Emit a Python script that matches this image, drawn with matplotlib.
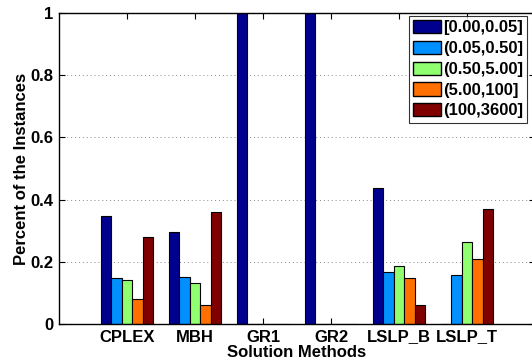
import matplotlib
matplotlib.use("Agg")
import matplotlib.pyplot as plt
import numpy as np

methods = ["CPLEX", "MBH", "GR1", "GR2", "LSLP_B", "LSLP_T"]
ranges = ["[0.00,0.05]", "(0.05,0.50]", "(0.50,5.00]", "(5.00,100]", "(100,3600]"]
share_0_005 = [0.347, 0.296, 1.0, 1.0, 0.436, 0.0]
share_005_05 = [0.149, 0.151, 0.0, 0.0, 0.167, 0.158]
share_05_5 = [0.140, 0.132, 0.0, 0.0, 0.185, 0.263]
share_5_100 = [0.081, 0.062, 0.0, 0.0, 0.148, 0.210]
share_100_3600 = [0.279, 0.359, 0.0, 0.0, 0.062, 0.369]
series = [share_0_005, share_005_05, share_05_5, share_5_100, share_100_3600]
colors = ["#00008F", "#0090FF", "#90FF70", "#FF7000", "#800000"]

plt.rcParams["font.family"] = ["Liberation Sans", "DejaVu Sans"]
plt.rcParams["font.weight"] = "bold"

fig = plt.figure(figsize=(5.32, 3.64), dpi=100)
ax = fig.add_axes([59 / 532, 1 - 324 / 364, 476 / 532, 311 / 364])

x = np.arange(1, len(methods) + 1)
w = 0.155
for i, (vals, c, lab) in enumerate(zip(series, colors, ranges)):
    ax.bar(x + (i - 2) * w, vals, width=w, color=c, edgecolor="black",
           linewidth=0.8, label=lab)

fs = 12
ax.set_xlim(0, 7)
ax.set_ylim(0, 1)
ax.set_xticks(x)
ax.set_xticklabels(methods, fontsize=fs, fontweight="bold")
ax.set_yticks([0, 0.2, 0.4, 0.6, 0.8, 1.0])
ax.set_yticklabels(["0", "0.2", "0.4", "0.6", "0.8", "1"], fontsize=fs, fontweight="bold")
ax.tick_params(direction="in", top=True, right=True, length=4, width=0.8, pad=4)
ax.yaxis.grid(True, linestyle=(0, (1, 3)), color="#888888", linewidth=0.7)
ax.set_axisbelow(True)
for s in ax.spines.values():
    s.set_linewidth(1.0)

ax.set_ylabel("Percent of the Instances", fontsize=fs, fontweight="bold", labelpad=1)
ax.set_xlabel("Solution Methods", fontsize=fs, fontweight="bold", labelpad=0)

leg = ax.legend(loc="upper right", bbox_to_anchor=(470 / 476, 0.996),
                prop={"weight": "bold", "size": fs}, frameon=True, fancybox=False,
                edgecolor="black", handlelength=1.65, handleheight=0.85,
                handletextpad=0.15, labelspacing=0.32, borderpad=0.25,
                borderaxespad=0.1)
leg.get_frame().set_linewidth(0.8)
for h in leg.legend_handles:
    h.set_linewidth(1.0)

fig.savefig("out.png", dpi=100)
